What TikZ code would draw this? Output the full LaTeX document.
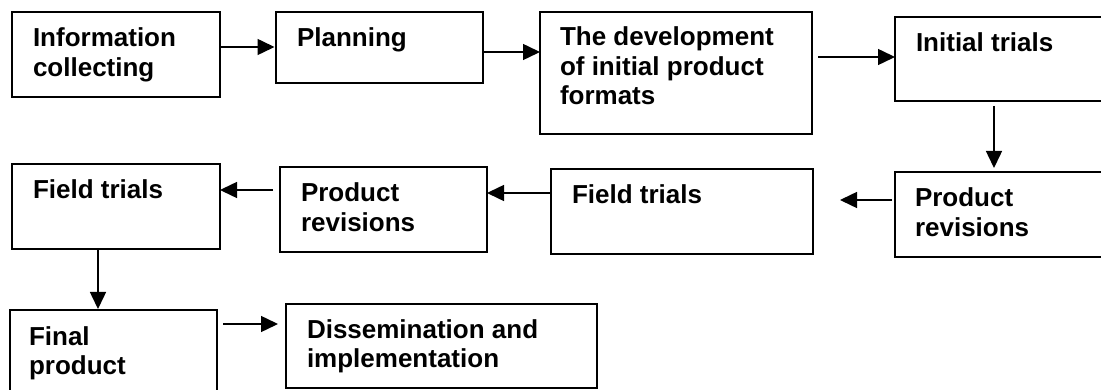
\documentclass[tikz,border=0pt]{standalone}
\usepackage{fontspec}
\setmainfont{Liberation Sans}
\usetikzlibrary{arrows.meta,calc}
\begin{document}
\begin{tikzpicture}[x=1pt,y=-1pt,
  box/.style={draw=black,line width=1.7pt,inner sep=0pt,outer sep=0pt,anchor=north west},
  lbl/.style={anchor=north west,inner sep=0pt,outer sep=0pt,align=left,
    font=\bfseries\fontsize{26}{29.5}\selectfont},
  arr/.style={line width=1.5pt,-{Triangle[length=17pt,width=16pt]}}]
\useasboundingbox (0,0) rectangle (1101,390);
\clip (0,0) rectangle (1101,390);
% boxes
\node[box,minimum width=208pt,minimum height=85pt]  (b1)  at (12,12)   {};
\node[box,minimum width=207pt,minimum height=71pt]  (b2)  at (276,12)  {};
\node[box,minimum width=272pt,minimum height=122pt] (b3)  at (540,12)  {};
\node[box,minimum width=215pt,minimum height=84pt]  (b4)  at (895,17)  {};
\node[box,minimum width=215pt,minimum height=85pt]  (b5)  at (895,172) {};
\node[box,minimum width=262pt,minimum height=85pt]  (b6)  at (551,169) {};
\node[box,minimum width=207pt,minimum height=85pt]  (b7)  at (280,167) {};
\node[box,minimum width=208pt,minimum height=85pt]  (b8)  at (12,164)  {};
\node[box,minimum width=207pt,minimum height=95pt]  (b9)  at (10,310)  {};
\node[box,minimum width=311pt,minimum height=84pt]  (b10) at (286,304) {};
% labels
\node[lbl] (t1)  at ($(b1.north west)+(21,15)$)  {\rule{0pt}{20pt}Information\\collecting};
\node[lbl] (t2)  at ($(b2.north west)+(21,15)$)  {\rule{0pt}{20pt}Planning};
\node[lbl] (t3)  at ($(b3.north west)+(20,14)$)  {\rule{0pt}{20pt}The development\\of initial product\\formats};
\node[lbl] (t4)  at ($(b4.north west)+(21,15)$)  {\rule{0pt}{20pt}Initial trials};
\node[lbl] (t5)  at ($(b5.north west)+(20,15)$)  {\rule{0pt}{20pt}Product\\revisions};
\node[lbl] (t6)  at ($(b6.north west)+(21,15)$)  {\rule{0pt}{20pt}Field trials};
\node[lbl] (t7)  at ($(b7.north west)+(21,15)$)  {\rule{0pt}{20pt}Product\\revisions};
\node[lbl] (t8)  at ($(b8.north west)+(21,15)$)  {\rule{0pt}{20pt}Field trials};
\node[lbl] (t9)  at ($(b9.north west)+(19,15)$)  {\rule{0pt}{20pt}Final\\product};
\node[lbl] (t10) at ($(b10.north west)+(21,14)$) {\rule{0pt}{20pt}Dissemination and\\implementation};
% connector anchor points
\coordinate (p1) at ([yshift=-35pt]b2.north west);
\coordinate (p2) at ([yshift=-40pt]b2.north east);
\coordinate (p3) at ([yshift=-40pt]b4.north west);
\coordinate (p4) at ([xshift=99pt]b4.south west);
\coordinate (p5) at ([yshift=-28pt]b5.north west);
\coordinate (p6) at ([yshift=-24pt]b6.north west);
\coordinate (p7) at ([yshift=-23pt]b7.north west);
\coordinate (p8) at ([xshift=86pt]b8.south west);
\coordinate (p9) at ([yshift=-14pt]b9.north east);
% connectors
\draw[arr,shorten >=1.5pt] (p1 -| b1.east) -- (p1);
\draw[arr] (p2) -- (p2 -| b3.west);
\draw[arr,shorten <=6pt] (p3 -| b3.east) -- (p3);
\draw[arr,shorten <=5pt,shorten >=4pt] (p4) -- (p4 |- b5.north);
\draw[arr,shorten <=3pt,shorten >=27pt] (p5) -- (p5 -| b6.east);
\draw[arr] (p6) -- (p6 -| b7.east);
\draw[arr,shorten <=7pt] (p7) -- (p7 -| b8.east);
\draw[arr,shorten >=1pt] (p8) -- (p8 |- b9.north);
\draw[arr,shorten <=6pt,shorten >=8pt] (p9) -- (p9 -| b10.west);
\end{tikzpicture}
\end{document}
